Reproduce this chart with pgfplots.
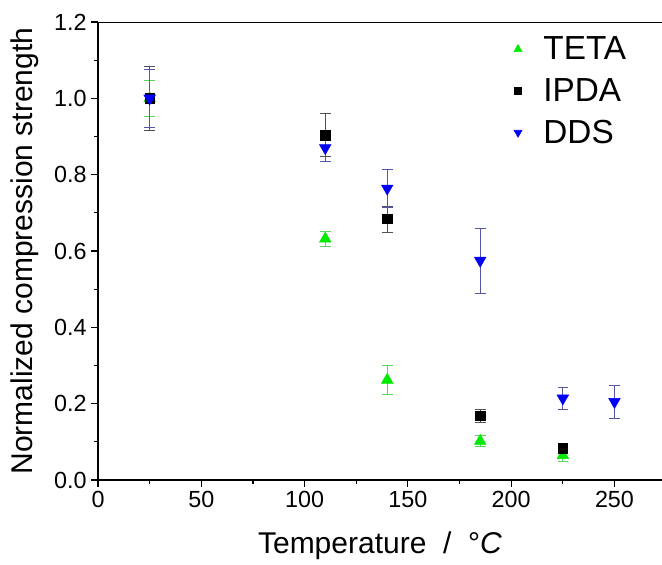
\documentclass[border=0pt]{standalone}
\usepackage{fontspec}
\setmainfont{Liberation Sans}
\usepackage{pgfplots}
\pgfplotsset{compat=1.18}
\definecolor{tetaG}{RGB}{0,235,0}
\definecolor{tetaErr}{RGB}{90,215,90}
\definecolor{ipdaErr}{RGB}{80,80,90}
\definecolor{ddsB}{RGB}{0,0,245}
\definecolor{ddsErr}{RGB}{85,85,170}
\begin{document}
\begin{tikzpicture}
\begin{axis}[
  name=ax,
  scale only axis, width=423pt, height=343.5pt,
  xmin=0, xmax=273, ymin=0, ymax=1.2,
  axis x line*=bottom, axis y line*=left,
  axis line style={line width=0.9pt},
  every tick/.style={black, line width=0.9pt},
  tick align=outside, major tick length=5pt, minor tick length=3pt,
  xtick={0,50,...,250}, minor x tick num=1,
  ytick={0,0.2,...,1.2}, minor y tick num=1,
  /pgf/number format/assume math mode=true,
  yticklabel style={/pgf/number format/.cd, fixed, fixed zerofill, precision=1},
  tick label style={font=\fontsize{17.5}{17.5}\selectfont},
  xlabel={Temperature\ \ /\ \ °\textit{C}},
  ylabel={Normalized compression strength},
  label style={font=\fontsize{22.5}{24}\selectfont},
  xlabel style={yshift=-11pt},
  ylabel style={yshift=5pt},
  legend style={draw=none, fill=none, at={(0.73,0.98)}, anchor=north west,
    font=\fontsize{25}{29}\selectfont, row sep=8.5pt,
    /tikz/every odd column/.append style={column sep=14pt}},
  legend cell align=left,
  legend image code/.code={\draw[#1] plot coordinates {(0.3cm,0cm)};},
  error bars/y dir=both, error bars/y explicit,
]
\addplot+[forget plot, only marks, mark=triangle*, mark size=5pt,
  color=tetaG, mark options={fill=tetaG, draw=tetaG},
  error bars/error bar style={color=tetaErr, line width=0.6pt},
  error bars/error mark options={rotate=90, mark size=4pt, color=tetaErr, line width=0.6pt}]
  coordinates {
  (25,1.0) +- (0,0.047)
  (110,0.632) +- (0,0.02)
  (140,0.262) +- (0,0.038)
  (185,0.102) +- (0,0.015)
  (225,0.065) +- (0,0.015)
};
\addplot+[forget plot, only marks, mark=square*, mark size=3.6pt,
  color=black, mark options={fill=black, draw=black},
  error bars/error bar style={color=ipdaErr, line width=0.6pt},
  error bars/error mark options={rotate=90, mark size=4pt, color=ipdaErr, line width=0.6pt}]
  coordinates {
  (25,1.0) +- (0,0.083)
  (110,0.904) +- (0,0.057)
  (140,0.684) +- (0,0.034)
  (185,0.168) +- (0,0.018)
  (225,0.083) +- (0,0.01)
};
\addplot+[forget plot, only marks, mark=triangle*, mark size=5pt,
  color=ddsB, mark options={fill=ddsB, draw=ddsB, rotate=180},
  error bars/error bar style={color=ddsErr, line width=0.6pt},
  error bars/error mark options={rotate=90, mark size=4pt, color=ddsErr, line width=0.6pt}]
  coordinates {
  (25,1.0) +- (0,0.075)
  (110,0.87) +- (0,0.035)
  (140,0.764) +- (0,0.05)
  (185,0.575) +- (0,0.085)
  (225,0.214) +- (0,0.028)
  (250,0.205) +- (0,0.043)
};
\addlegendimage{only marks, mark=triangle*, mark size=3.5pt, color=tetaG, mark options={fill=tetaG}}
\addlegendentry{TETA}
\addlegendimage{only marks, mark=square*, mark size=2.6pt, color=black}
\addlegendentry{IPDA}
\addlegendimage{only marks, mark=triangle*, mark size=3.5pt, color=ddsB, mark options={fill=ddsB, rotate=180}}
\addlegendentry{DDS}
\draw[line width=0.9pt] (rel axis cs:0,1) -- (rel axis cs:1,1);
\end{axis}
\pgfresetboundingbox
\path ([shift={(-73.5pt,-63.75pt)}]ax.south west) rectangle ([shift={(0pt,16.5pt)}]ax.north east);
\end{tikzpicture}
\end{document}
